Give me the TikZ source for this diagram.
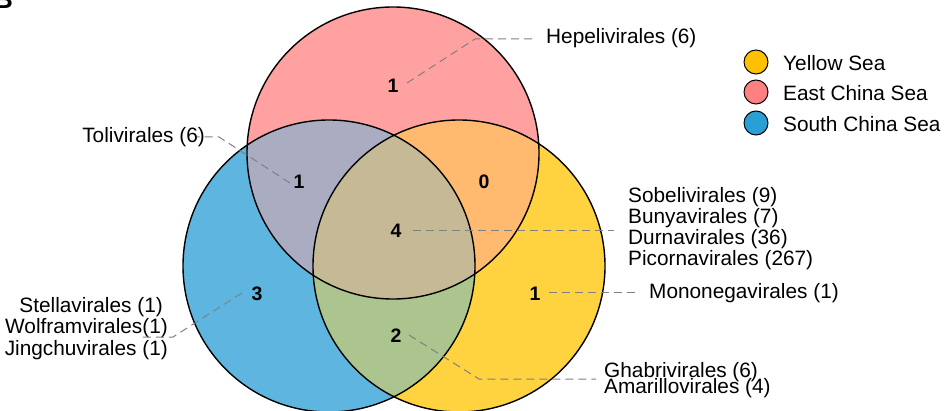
\documentclass[tikz,border=0pt]{standalone}
\usepackage{fontspec}
\setmainfont{Liberation Sans}
\definecolor{ysea}{RGB}{255,192,0}
\definecolor{esea}{RGB}{255,128,128}
\definecolor{ssea}{RGB}{41,160,213}
\definecolor{fY}{RGB}{255,211,64}
\definecolor{fR}{RGB}{255,161,161}
\definecolor{fB}{RGB}{94,182,224}
\definecolor{fRB}{RGB}{170,172,194}
\definecolor{fRY}{RGB}{255,186,112}
\definecolor{fBY}{RGB}{172,197,143}
\definecolor{fRBY}{RGB}{198,186,150}
\definecolor{leadgray}{RGB}{128,128,128}
\begin{document}
\begin{tikzpicture}[x=1pt,y=-1pt,
  lbl/.style={inner sep=0pt,font=\fontsize{20.8}{24}\selectfont},
  num/.style={inner sep=0pt,font=\fontsize{19.5}{22}\selectfont\bfseries},
  leader/.style={draw=leadgray,line width=1pt,dash pattern=on 8pt off 5pt},
  ring/.style={draw=black,line width=1.4pt},
  key/.style={circle,draw=black,line width=1pt,minimum size=24pt,inner sep=0pt}]
\useasboundingbox (0,0) rectangle (947,411);

% circle centres
\coordinate (cR) at (393,153);
\coordinate (cB) at (329,266);
\coordinate (cY) at (459,266);
\def\rad{146}

% single-set areas
\fill[fB] (cB) circle (\rad);
\fill[fY] (cY) circle (\rad);
\fill[fR] (cR) circle (\rad);
% pairwise overlaps
\begin{scope}
  \clip (cR) circle (\rad);
  \fill[fRB] (cB) circle (\rad);
  \fill[fRY] (cY) circle (\rad);
\end{scope}
\begin{scope}
  \clip (cB) circle (\rad);
  \fill[fBY] (cY) circle (\rad);
\end{scope}
% triple overlap
\begin{scope}
  \clip (cR) circle (\rad);
  \clip (cB) circle (\rad);
  \fill[fRBY] (cY) circle (\rad);
\end{scope}
% outlines
\draw[ring] (cB) circle (\rad);
\draw[ring] (cY) circle (\rad);
\draw[ring] (cR) circle (\rad);

% panel letter
\node[anchor=south east,inner sep=0pt,font=\fontsize{26}{26}\selectfont\bfseries] (panel) at (13,9) {B};

% region counts
\node[num] (nR)   at (393,86)  {1};
\node[num] (nRB)  at (299,182) {1};
\node[num] (nRY)  at (484,182) {0};
\node[num] (nRBY) at (396,231) {4};
\node[num] (nB)   at (257,294) {3};
\node[num] (nY)   at (535,294) {1};
\node[num] (nBY)  at (396,336) {2};

% order labels
\node[lbl,anchor=west] (hep) at (546,38) {Hepelivirales (6)};
\node[lbl,anchor=east] (tol) at (205,137) {Tolivirales (6)};
\node[lbl,anchor=west] (sob) at (628,197) {Sobelivirales (9)};
\node[lbl,anchor=west] (bun) at (628,218) {Bunyavirales (7)};
\node[lbl,anchor=west] (dur) at (628,239) {Durnavirales (36)};
\node[lbl,anchor=west] (pic) at (628,260) {Picornavirales (267)};
\node[lbl,anchor=west] (mon) at (649,293) {Mononegavirales (1)};
\node[lbl,anchor=west] (gha) at (604,372) {Ghabrivirales (6)};
\node[lbl,anchor=west] (ama) at (604,388) {Amarillovirales (4)};
\node[lbl,anchor=east] (ste) at (163,307) {Stellavirales (1)};
\node[lbl,anchor=east] (wol) at (168,328) {Wolframvirales(1)};
\node[lbl,anchor=east] (jin) at (168,350) {Jingchuvirales (1)};

% leader lines
\coordinate (hA) at (407,83);  \coordinate (hB) at (475,39);  \coordinate (hC) at (536,39);
\draw[leader] (hA) -- (hB) -- (hC);
\coordinate (tA) at (290,183); \coordinate (tB) at (219,137); \coordinate (tC) at (197,137);
\draw[leader] (tA) -- (tB) -- (tC);
\coordinate (fA) at (413,231); \coordinate (fB) at (614,231);
\draw[leader] (fA) -- (fB);
\coordinate (mA) at (549,293); \coordinate (mB) at (639,293);
\draw[leader] (mA) -- (mB);
\coordinate (gA) at (409,335); \coordinate (gB) at (479,379); \coordinate (gC) at (596,379);
\draw[leader] (gA) -- (gB) -- (gC);
\coordinate (sA) at (242,293); \coordinate (sB) at (173,337); \coordinate (sC) at (142,337);
\draw[leader] (sA) -- (sB) -- (sC);

% legend
\node[key,fill=ysea] (kY) at (756,62)  {};
\node[key,fill=esea] (kR) at (756,92)  {};
\node[key,fill=ssea] (kB) at (756,123) {};
\node[lbl,anchor=west] (tY) at (783,63)  {Yellow Sea};
\node[lbl,anchor=west] (tR) at (783,93)  {East China Sea};
\node[lbl,anchor=west] (tB) at (783,124) {South China Sea};
\end{tikzpicture}
\end{document}
